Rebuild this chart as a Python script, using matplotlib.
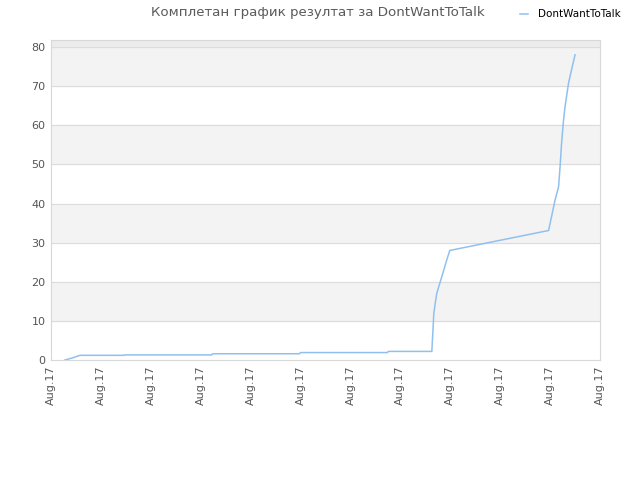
import matplotlib
matplotlib.use("Agg")
import matplotlib.pyplot as plt

# data
days = [0.28, 0.42, 0.58, 1.46, 1.48, 3.22, 3.24, 4.98, 5.00, 6.74, 6.76, 7.63,
        7.65, 7.67, 7.70, 7.73, 7.78, 7.83, 7.93, 7.99, 9.97, 10.03, 10.10,
        10.17, 10.20, 10.23, 10.27, 10.30, 10.37, 10.43, 10.50]
results = [0.0, 0.5, 1.2, 1.2, 1.3, 1.3, 1.6, 1.6, 1.9, 1.9, 2.2, 2.2,
           6.9, 11.9, 14.6, 17.1, 19.2, 21.3, 25.6, 28.0, 33.1, 36.7, 40.9,
           44.3, 49.4, 55.4, 61.4, 64.8, 70.8, 74.2, 78.0]
tick_labels = ["Aug.17"] * 12
series_name = "DontWantToTalk"
title = "Комплетан график резултат за DontWantToTalk"

fig = plt.figure(figsize=(6.4, 4.8), dpi=100)
ax = fig.add_axes([0.0797, 0.25, 0.8578, 0.6667])

ymax = 81.8
ax.set_xlim(0, 11)
ax.set_ylim(0, ymax)

# alternating bands
for lo in range(0, 90, 10):
    if (lo // 10) % 2 == 1:
        ax.axhspan(lo, min(lo + 10, ymax), color="#f3f3f3", zorder=0)
ax.axhspan(80, ymax, color="#ececec", zorder=0)
for y in range(10, 90, 10):
    ax.axhline(y, color="#dcdcdc", lw=0.8, zorder=1)

ax.plot(days, results, color="#90c0f0", lw=1.1, label=series_name, zorder=3)

ax.set_xticks(range(12))
ax.set_xticklabels(tick_labels, rotation=90)
ax.set_yticks(range(0, 90, 10))
ax.tick_params(length=0, labelsize=8, colors="#555555", pad=4)
for s in ax.spines.values():
    s.set_color("#d8d8d8")

fig.text(0.497, 0.988, title, ha="center", va="top", fontsize=9.6, color="#5a5a5a")
fig.legend(loc="upper right", bbox_to_anchor=(0.985, 1.0), frameon=False,
           fontsize=7.5, handlelength=0.8, handletextpad=1.0)

fig.savefig("out.png", dpi=100)
